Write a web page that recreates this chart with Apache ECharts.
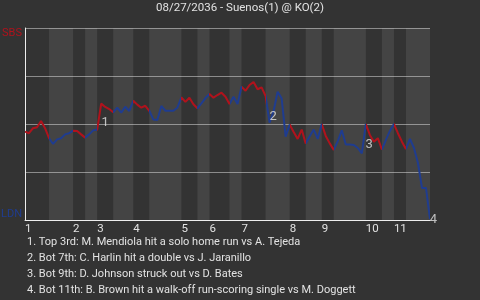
<!DOCTYPE html>
<html>
<head>
<meta charset="utf-8">
<script src="https://cdn.jsdelivr.net/npm/echarts@6/dist/echarts.min.js"></script>
<style>html,body{margin:0;padding:0;background:#333333;}#c{width:480px;height:300px;}</style>
</head>
<body>
<div id="c"></div>
<script>
// ---- data ----
const titleText = '08/27/2036 - Suenos(1) @ KO(2)';
const awayLabel = 'SBS';
const homeLabel = 'LDN';
// win probability (%) for the away team after each play
const winProb = [
  46.0, 45.2, 47.8, 48.3, 51.6, 47.8, 42.6, 39.6, 42.0, 42.6,
  44.6, 45.2, 46.5, 46.4, 44.6, 42.9, 44.6, 46.7, 47.0, 60.6,
  58.9, 57.8, 56.1, 58.5, 55.9, 59.0, 56.8, 62.1, 60.1, 58.5,
  59.5, 56.9, 52.4, 52.1, 59.4, 56.9, 56.9, 56.9, 58.5, 63.9,
  61.5, 63.7, 60.3, 58.2, 60.7, 63.5, 65.6, 63.7, 65.1, 66.3,
  64.2, 60.4, 64.2, 60.4, 69.4, 67.3, 70.3, 71.9, 68.1, 69.1,
  64.6, 50.7, 56.8, 66.8, 63.4, 43.4, 49.7, 45.8, 42.2, 47.1,
  39.9, 43.6, 47.1, 42.2, 50.0, 43.8, 39.9, 36.5, 41.1, 46.7,
  39.3, 39.3, 39.1, 37.5, 34.7, 50.0, 44.3, 40.8, 42.6, 36.7,
  41.7, 46.4, 50.0, 45.2, 40.8, 37.0, 42.2, 37.5, 29.7, 16.7,
  16.7, 0.5
];
// play index where each half-inning begins (last = final play)
const halfBoundaries = [0, 6, 12, 15, 18, 22, 27, 31, 39, 43, 46, 51, 54, 60, 66, 70, 74, 77, 85, 89, 92, 95, 101];
const inningLabels = ['1','2','3','4','5','6','7','8','9','10','11'];
// key plays
const eventIndex = [19, 61, 84, 101];
const eventMarks = ['1', '2', '3', '4'];
const eventTexts = [
  '1. Top 3rd: M. Mendiola hit a solo home run vs A. Tejeda',
  '2. Bot 7th: C. Harlin hit a double vs J. Jaranillo',
  '3. Bot 9th: D. Johnson struck out vs D. Bates',
  '4. Bot 11th: B. Brown hit a walk-off run-scoring single vs M. Doggett'
];

// ---- styles ----
const FONT = 'Roboto, "Liberation Sans", sans-serif';
const RED = '#b0121c';
const BLUE = '#1f3c8f';
const TEXT = '#e2e2e2';
const markOffsets = [[4, 19], [3.5, -6], [7.3, -8.3], [3.5, 0.5]];

const lineData = winProb.map((v, i) => [i, v]);
const inningStarts = halfBoundaries.filter((_, i) => i % 2 === 0 && i < halfBoundaries.length - 1);
const pieces = [];
const bands = [];
for (let i = 0; i < halfBoundaries.length - 1; i++) {
  pieces.push({ min: halfBoundaries[i], max: halfBoundaries[i + 1], color: i % 2 === 0 ? RED : BLUE });
  if (i % 2 === 1) bands.push([{ xAxis: halfBoundaries[i] }, { xAxis: halfBoundaries[i + 1] }]);
}
const markData = eventIndex.map((idx, k) => ({
  value: [idx, winProb[idx]],
  name: eventMarks[k],
  label: { offset: markOffsets[k] }
}));

const chart = echarts.init(document.getElementById('c'), null, { renderer: 'canvas' });
chart.setOption({
  backgroundColor: '#333333',
  animation: false,
  title: [
    { text: titleText, left: 'center', top: 2, padding: 0,
      textStyle: { color: TEXT, fontFamily: FONT, fontSize: 11.5, fontWeight: 'normal' } },
    { text: eventTexts.join('\n'), left: 27, top: 234, padding: 0,
      textStyle: { color: TEXT, fontFamily: FONT, fontSize: 11, fontWeight: 'normal', lineHeight: 16 } }
  ],
  grid: { left: 25, right: 50, top: 28, bottom: 80, outerBoundsMode: 'none', containLabel: false },
  xAxis: {
    type: 'value', min: 0, max: halfBoundaries[halfBoundaries.length - 1],
    axisLine: { show: true, lineStyle: { color: '#eeeeee', width: 1 } },
    axisTick: { show: false },
    splitLine: { show: false },
    axisLabel: {
      customValues: inningStarts,
      formatter: v => inningLabels[inningStarts.indexOf(v)] || '',
      align: 'left', margin: 3, color: TEXT, fontFamily: FONT, fontSize: 11.5
    }
  },
  yAxis: {
    type: 'value', min: 0, max: 100, interval: 25,
    axisLine: { show: true, lineStyle: { color: '#eeeeee', width: 1 } },
    axisTick: { show: false },
    splitLine: { show: true, lineStyle: { color: '#8c8c8c', width: 1 } },
    axisLabel: {
      formatter: v => v === 100 ? awayLabel : (v === 0 ? homeLabel : ''),
      color: v => (v === 100 || v === '100') ? RED : BLUE,
      margin: 3, fontFamily: FONT, fontSize: 11,
      verticalAlignMaxLabel: 'top', verticalAlignMinLabel: 'bottom'
    }
  },
  visualMap: {
    show: false, type: 'piecewise', dimension: 0, seriesIndex: 0, pieces: pieces
  },
  series: [
    {
      type: 'line', data: lineData, showSymbol: false, z: 3,
      lineStyle: { width: 2 }
    },
    {
      type: 'scatter', data: markData, symbolSize: 1, z: 4,
      itemStyle: { color: 'rgba(0,0,0,0)' },
      label: { show: true, position: 'inside', formatter: p => p.name,
        color: TEXT, fontFamily: FONT, fontSize: 13 },
      markArea: { silent: true, itemStyle: { color: 'rgba(255,255,255,0.085)' }, data: bands }
    }
  ]
});
</script>
</body>
</html>
